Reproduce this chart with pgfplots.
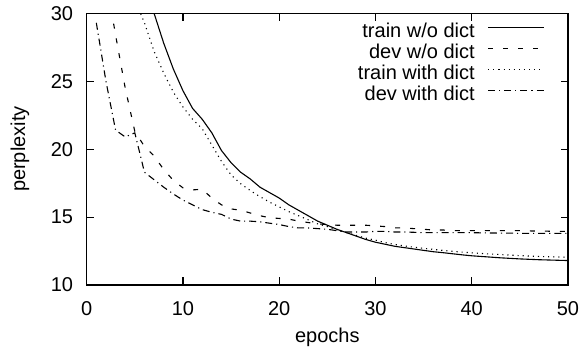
\documentclass[border=0pt]{standalone}
\usepackage{fontspec}
\setmainfont{Liberation Sans}
\usepackage{pgfplots}
\pgfplotsset{compat=1.18}
\usepackage{pgfplotstable}

\pgfplotstableread{
x y
6 33.5
7 30.0
8 27.8
9 25.9
10 24.3
11 23.0
12 22.2
13 21.2
14 19.9
15 19.0
16 18.3
17 17.8
18 17.2
19 16.8
20 16.4
21 15.9
22 15.5
23 15.1
24 14.7
25 14.4
26 14.1
27 13.85
28 13.6
29 13.35
30 13.15
31 13.0
32 12.85
33 12.75
34 12.65
35 12.55
36 12.45
37 12.38
38 12.3
39 12.22
40 12.15
41 12.1
42 12.05
43 12.0
44 11.96
45 11.92
46 11.89
47 11.86
48 11.84
49 11.82
50 11.8
}\trainwo

\pgfplotstableread{
x y
2 32.5
3 28.4
4 24.5
5 21.3
6 20.2
7 19.5
8 18.5
9 17.7
10 17.15
11 17.0
12 17.05
13 16.4
14 15.9
15 15.6
16 15.5
17 15.3
18 15.1
19 14.95
20 14.9
21 14.85
22 14.7
23 14.6
24 14.5
25 14.45
26 14.4
27 14.4
28 14.4
29 14.4
30 14.35
31 14.3
32 14.2
33 14.2
34 14.15
35 14.1
36 14.05
37 14.05
38 14.0
39 14.0
40 14.0
41 14.0
42 14.0
43 14.0
44 14.0
45 14.0
46 13.98
47 13.97
48 13.96
49 13.95
50 13.95
}\devwo

\pgfplotstableread{
x y
5 31.0
6 29.3
7 27.2
8 25.6
9 24.2
10 23.1
11 22.2
12 21.5
13 20.3
14 19.1
15 18.1
16 17.45
17 16.95
18 16.5
19 16.1
20 15.75
21 15.4
22 15.1
23 14.8
24 14.5
25 14.3
26 14.05
27 13.85
28 13.65
29 13.45
30 13.3
31 13.12
32 12.98
33 12.88
34 12.78
35 12.7
36 12.62
37 12.55
38 12.48
39 12.42
40 12.37
41 12.32
42 12.28
43 12.24
44 12.2
45 12.16
46 12.13
47 12.1
48 12.08
49 12.06
50 12.05
}\trainwith

\pgfplotstableread{
x y
1 29.3
2 25.0
3 21.4
4 20.9
5 21.2
6 18.3
7 17.75
8 17.2
9 16.7
10 16.25
11 15.9
12 15.55
13 15.35
14 15.2
15 14.85
16 14.7
17 14.7
18 14.65
19 14.55
20 14.45
21 14.3
22 14.2
23 14.2
24 14.15
25 14.1
26 14.0
27 13.9
28 13.9
29 13.9
30 13.95
31 13.95
32 13.9
33 13.9
34 13.88
35 13.85
36 13.85
37 13.85
38 13.85
39 13.85
40 13.85
41 13.84
42 13.83
43 13.82
44 13.82
45 13.8
46 13.8
47 13.8
48 13.8
49 13.8
50 13.8
}\devwith

\begin{document}
\fontsize{20bp}{24bp}\selectfont
\begin{tikzpicture}
\begin{axis}[
  scale only axis,
  width=481.3bp, height=271.7bp,
  xmin=0, xmax=50, ymin=10, ymax=30,
  xtick={0,10,...,50}, ytick={10,15,...,30},
  tick align=inside,
  major tick length=7.5bp,
  axis line style={line width=1.1bp},
  every tick/.style={line width=1.1bp, black},
  /pgf/number format/assume math mode=true,
  tick label style={font=\fontsize{20bp}{24bp}\selectfont},
  xticklabel style={inner sep=0pt, yshift=-16.7bp},
  yticklabel style={inner sep=0pt, xshift=-13.4bp},
  label style={font=\fontsize{20bp}{24bp}\selectfont},
  xlabel={epochs}, ylabel={perplexity},
  xlabel style={at={(axis description cs:0.5,-0.2098)}, anchor=base},
  ylabel style={at={(axis description cs:-0.1386,0.5)}, anchor=center},
  legend cell align=right,
  legend plot pos=right,
  legend style={draw=none, fill=none, at={(axis description cs:0.9522,0.9661)}, anchor=north east,
    inner sep=0pt, column sep=13bp, row sep=1bp,
    nodes={inner sep=0pt, text height=15bp, text depth=5bp},
    font=\fontsize{20bp}{24bp}\selectfont},
  legend image code/.code={\draw[#1] (0bp,5bp) -- (56bp,5bp);},
  every axis plot/.append style={line width=1.1bp, black},
]
\addplot[solid] table[x=x,y=y] {\trainwo};
\addlegendentry{train w/o dict}
\addplot[dash pattern=on 5bp off 10bp] table[x=x,y=y] {\devwo};
\addlegendentry{dev w/o dict}
\addplot[dash pattern=on 1.1bp off 4bp] table[x=x,y=y] {\trainwith};
\addlegendentry{train with dict}
\addplot[dash pattern=on 7bp off 4bp on 1.1bp off 4bp] table[x=x,y=y] {\devwith};
\addlegendentry{dev with dict}
\end{axis}
\pgfresetboundingbox
\useasboundingbox (-86.7bp,-65bp) rectangle (499.3bp,285bp);
\end{tikzpicture}
\end{document}
